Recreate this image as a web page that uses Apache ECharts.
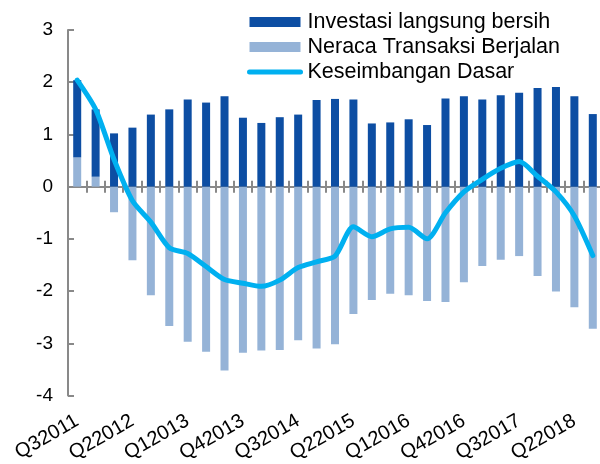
<!DOCTYPE html>
<html>
<head>
<meta charset="utf-8">
<script src="https://cdn.jsdelivr.net/npm/echarts@6/dist/echarts.min.js"></script>
<style>
  html, body { margin: 0; padding: 0; background: #fff; }
  #chart { width: 600px; height: 464px; }
</style>
</head>
<body>
<div id="chart"></div>
<script>
// Quarterly categories
var quarters = [
  'Q32011', 'Q42011', 'Q12012', 'Q22012', 'Q32012', 'Q42012', 'Q12013', 'Q22013',
  'Q32013', 'Q42013', 'Q12014', 'Q22014', 'Q32014', 'Q42014', 'Q12015', 'Q22015',
  'Q32015', 'Q42015', 'Q12016', 'Q22016', 'Q32016', 'Q42016', 'Q12017', 'Q22017',
  'Q32017', 'Q42017', 'Q12018', 'Q22018', 'Q32018'
];

// Net direct investment (% of GDP)
var investasiLangsung = [
  1.48, 1.29, 1.02, 1.13, 1.38, 1.48, 1.67, 1.61, 1.73, 1.32, 1.22, 1.33, 1.38, 1.66, 1.68,
  1.67, 1.21, 1.23, 1.29, 1.18, 1.69, 1.73, 1.67, 1.75, 1.80, 1.89, 1.91, 1.73, 1.39
];

// Current account balance (% of GDP)
var neracaTransaksi = [
  0.56, 0.19, -0.49, -1.41, -2.08, -2.67, -2.97, -3.16, -3.52, -3.18, -3.14, -3.13, -2.94, -3.10, -3.02,
  -2.44, -2.17, -2.05, -2.08, -2.19, -2.21, -1.83, -1.52, -1.40, -1.33, -1.71, -2.01, -2.31, -2.72
];

// Basic balance (% of GDP)
var keseimbanganDasar = [
  2.04, 1.48, 0.52, -0.27, -0.68, -1.17, -1.28, -1.53, -1.78, -1.85, -1.91, -1.79, -1.55, -1.44, -1.33,
  -0.77, -0.96, -0.81, -0.78, -1.00, -0.50, -0.10, 0.14, 0.35, 0.48, 0.20, -0.10, -0.56, -1.32
];

var yTicks = { min: -4, max: 3, step: 1 };

var FONT = '"Liberation Sans", Arial, sans-serif';
var AXIS_GREY = '#898989';
var DARK = '#0D4EA3';
var LIGHT = '#95B3D7';
var CYAN = '#00B0F0';

var chart = echarts.init(document.getElementById('chart'), null, { renderer: 'canvas' });

var baseCat = {
  type: 'category',
  data: quarters,
  boundaryGap: true,
  position: 'bottom',
  splitLine: { show: false }
};

chart.setOption({
  animation: false,
  backgroundColor: '#ffffff',
  textStyle: { fontFamily: FONT },
  grid: {
    left: 68, right: -2, top: 30, bottom: 68.5,
    containLabel: false,
    outerBoundsMode: 'none'
  },
  legend: {
    orient: 'vertical',
    left: 247,
    top: 11,
    padding: 0,
    itemWidth: 51,
    itemHeight: 10,
    itemGap: 3,
    selectedMode: false,
    textStyle: { fontSize: 21.5, color: '#000', fontFamily: FONT, lineHeight: 21.5, padding: [0, 0, 0, 2] },
    data: [
      { name: 'Investasi langsung bersih', icon: 'rect' },
      { name: 'Neraca Transaksi Berjalan', icon: 'rect' },
      {
        name: 'Keseimbangan Dasar',
        lineStyle: { width: 5, cap: 'round' },
        itemStyle: { color: 'transparent', borderWidth: 0, opacity: 0 }
      }
    ]
  },
  xAxis: [
    // zero line with ticks pointing down
    Object.assign({}, baseCat, {
      axisLine: { show: true, onZero: true, onZeroAxisIndex: 0, lineStyle: { color: AXIS_GREY, width: 2 } },
      axisTick: { show: true, inside: false, length: 6, interval: 0, lineStyle: { color: AXIS_GREY, width: 2 } },
      axisLabel: { show: false }
    }),
    // same ticks pointing up, so they cross the zero line
    Object.assign({}, baseCat, {
      axisLine: { show: false, onZero: true, onZeroAxisIndex: 0 },
      axisTick: { show: true, inside: true, length: 6, interval: 0, lineStyle: { color: AXIS_GREY, width: 2 } },
      axisLabel: { show: false }
    }),
    // quarter labels along the bottom edge
    Object.assign({}, baseCat, {
      axisLine: { show: false, onZero: false },
      axisTick: { show: false },
      axisLabel: {
        show: true, interval: 2, rotate: 30, margin: 24,
        fontSize: 20, color: '#000', fontFamily: FONT
      }
    })
  ],
  yAxis: {
    type: 'value',
    min: yTicks.min,
    max: yTicks.max,
    interval: yTicks.step,
    axisLine: { show: true, lineStyle: { color: AXIS_GREY, width: 2 } },
    axisTick: { show: true, inside: true, length: 6, lineStyle: { color: AXIS_GREY, width: 2 } },
    splitLine: { show: false },
    axisLabel: { fontSize: 19, color: '#000', margin: 15, fontFamily: FONT }
  },
  series: [
    {
      name: 'Neraca Transaksi Berjalan',
      type: 'bar',
      stack: 'saldo',
      xAxisIndex: 0,
      barWidth: 8,
      itemStyle: { color: LIGHT },
      data: neracaTransaksi,
      z: 2
    },
    {
      name: 'Investasi langsung bersih',
      type: 'bar',
      stack: 'saldo',
      xAxisIndex: 0,
      barWidth: 8,
      itemStyle: { color: DARK },
      data: investasiLangsung,
      z: 2
    },
    {
      name: 'Keseimbangan Dasar',
      type: 'line',
      xAxisIndex: 0,
      data: keseimbanganDasar,
      symbol: 'none',
      smooth: 0.25,
      lineStyle: { color: CYAN, width: 5, cap: 'round', join: 'round' },
      itemStyle: { color: CYAN },
      z: 5
    }
  ]
});
</script>
</body>
</html>
